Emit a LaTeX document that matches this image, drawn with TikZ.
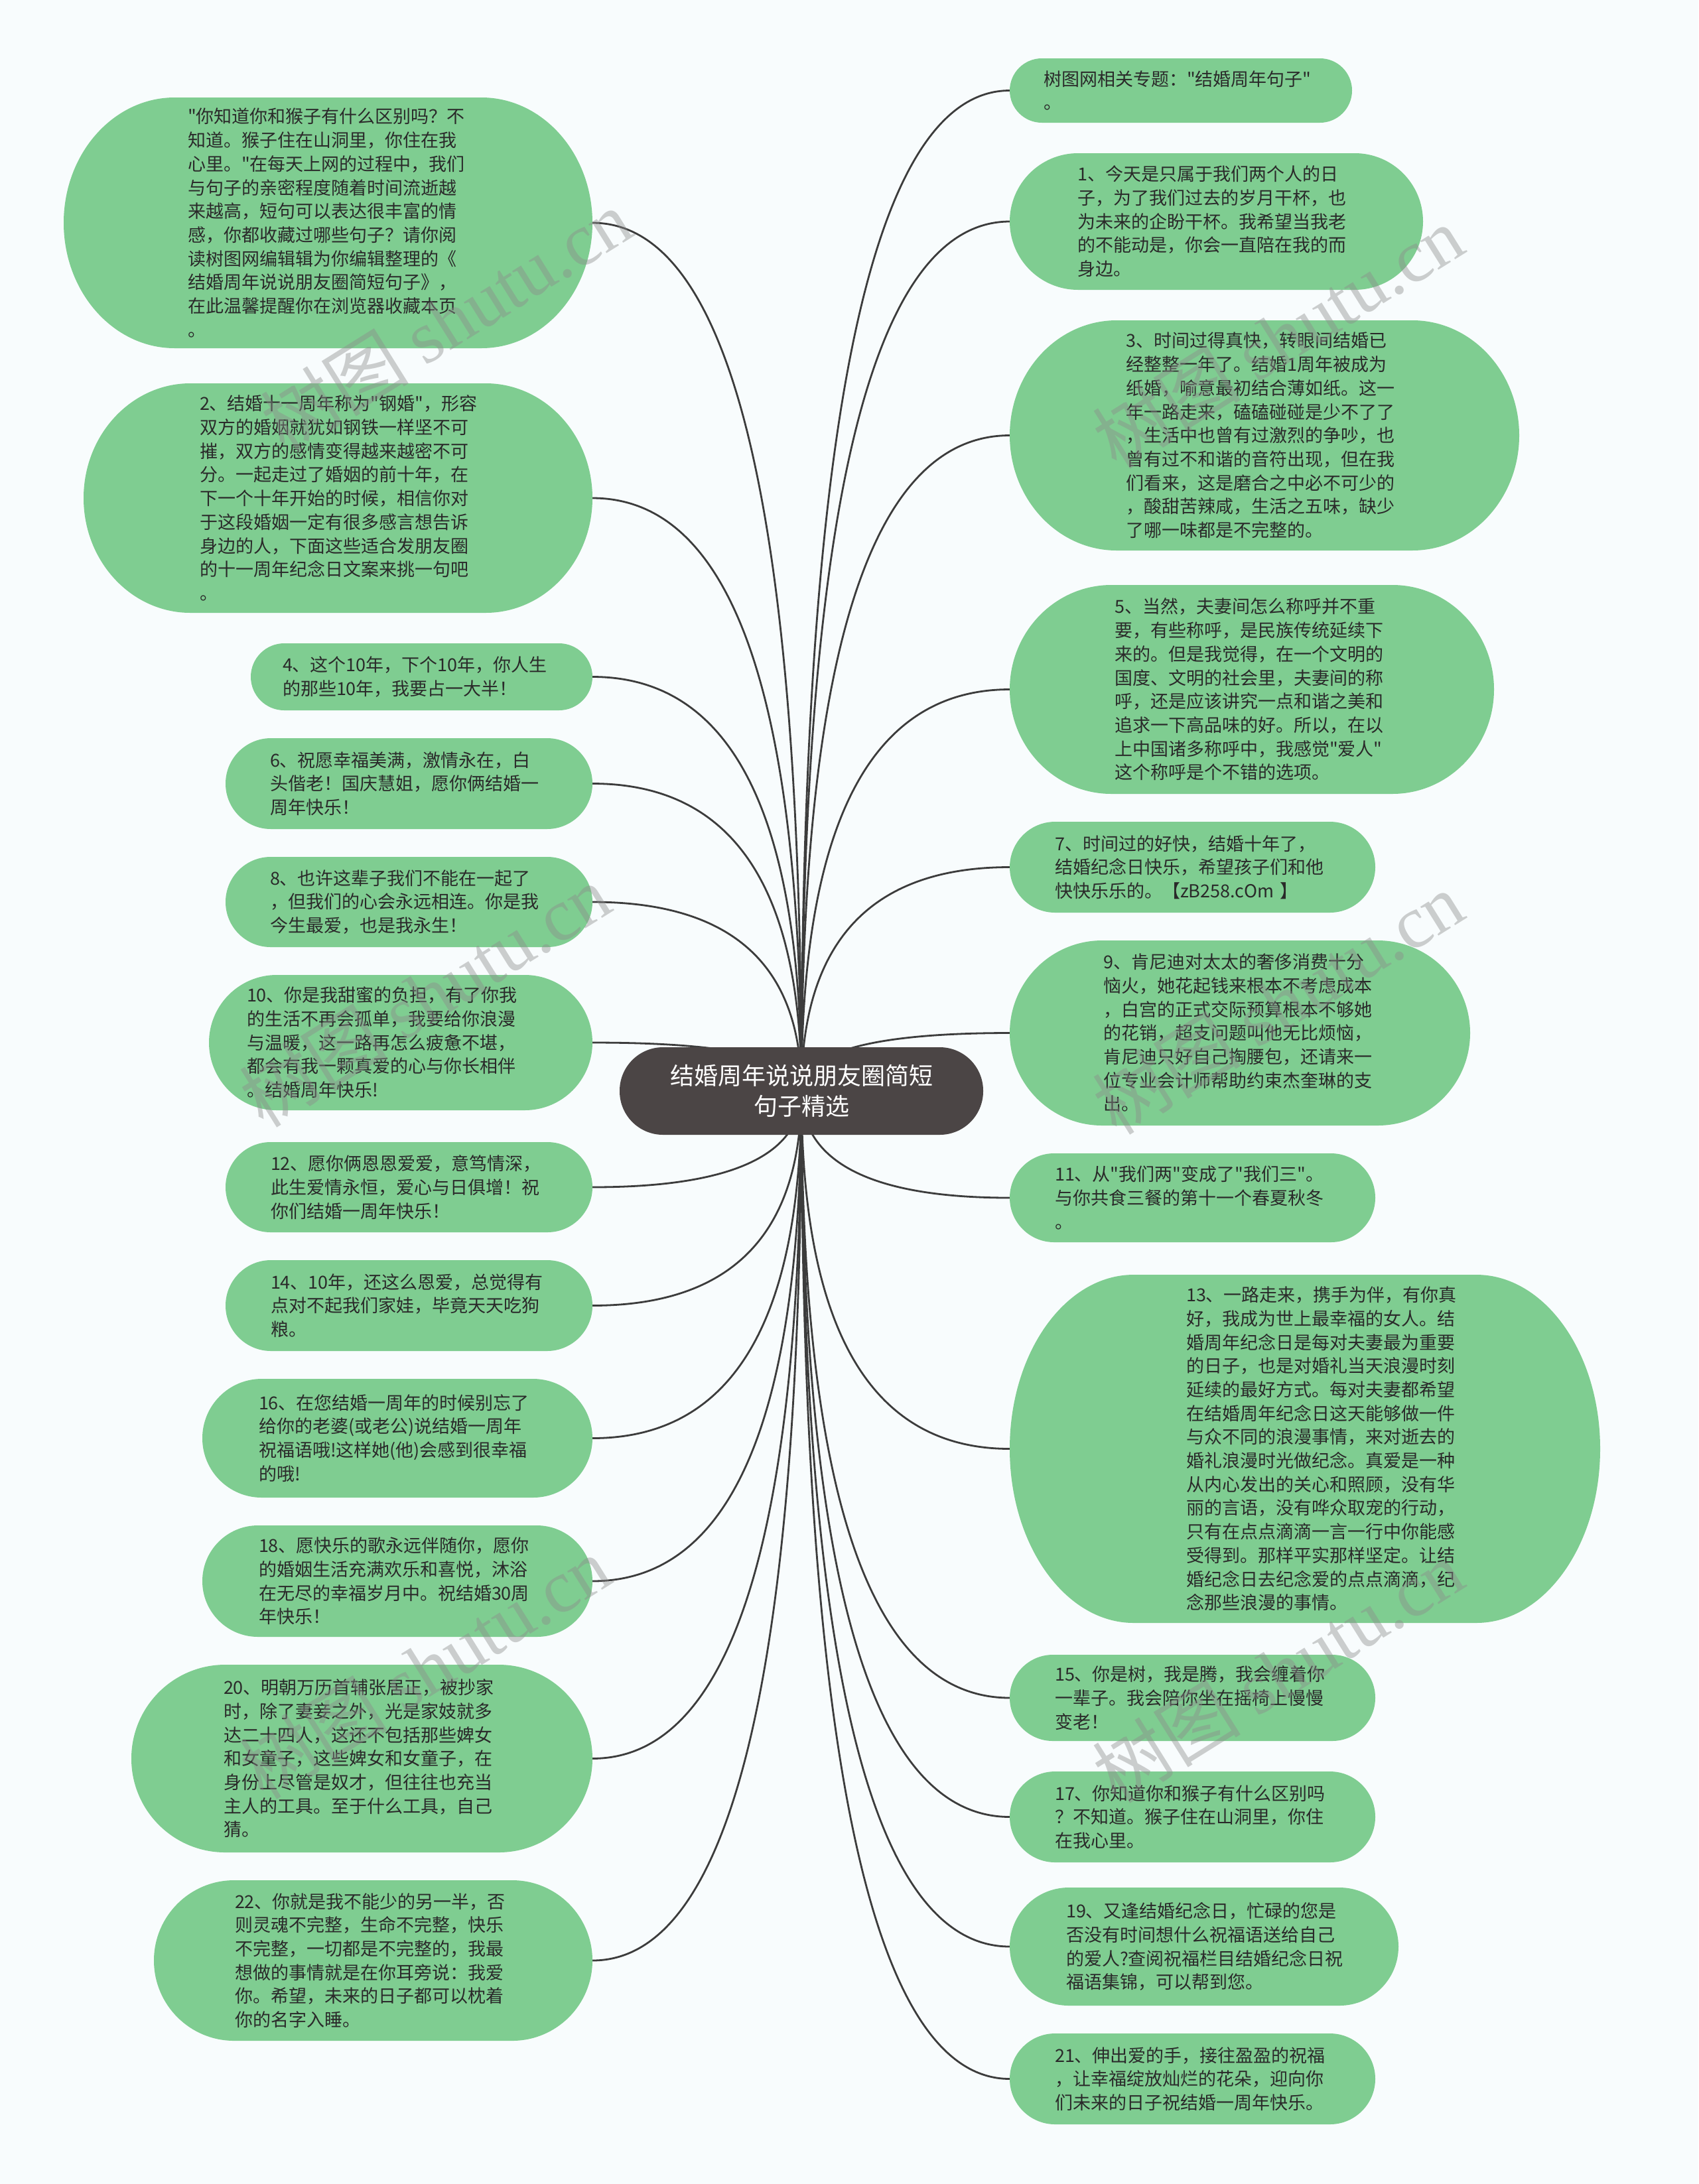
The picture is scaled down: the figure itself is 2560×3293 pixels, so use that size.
\documentclass[tikz,border=0pt]{standalone}
\usepackage{fontspec}
\setmainfont{Noto Sans CJK SC}[Ligatures=TeXOff]
\newfontfamily\wmlatin{Liberation Serif}[Ligatures=TeXOff]
\usetikzlibrary{calc}
\pgfdeclarelayer{bg}
\pgfdeclarelayer{fg}
\pgfsetlayers{bg,main,fg}
\definecolor{gfillc}{HTML}{7FCD91}
\definecolor{rootc}{HTML}{4B4545}
\definecolor{linec}{HTML}{3C3C3C}
\definecolor{txtc}{HTML}{2A2A2A}
\definecolor{bgc}{HTML}{F8FCFD}
\definecolor{wmc}{HTML}{8C8C8C}
\newcommand\gbub[7]{%
  \pgfmathsetmacro\bw{#4-#2}%
  \pgfmathsetmacro\bh{#5-#3}%
  \pgfmathsetmacro\bcx{(#2+#4)/2}%
  \pgfmathsetmacro\bcy{-(#3+#5)/2}%
  \pgfmathsetmacro\brx{min(\bh/2,0.21*\bw)}%
  \pgfmathsetmacro\bry{\bh/2}%
  \pgfmathsetmacro\btw{2*(\bcx-#6)}%
  \fill[gfillc] ({#2+\brx},{-#3}) -- ({#4-\brx},{-#3})
     arc[start angle=90,end angle=-90,x radius=\brx pt,y radius=\bry pt]
     -- ({#2+\brx},{-#5})
     arc[start angle=270,end angle=90,x radius=\brx pt,y radius=\bry pt] -- cycle;
  \node[gtext,minimum width=\bw pt,minimum height=\bh pt,text width=\btw pt] (#1) at (\bcx,\bcy) {#7};
}
\newcommand\linkL[1]{%
  \coordinate (k#1) at (root.center |- #1.east);
  \draw[conn] (root.center) .. controls ($(root.center)!0.6667!(k#1)$) and ($(#1.east)!0.6667!(k#1)$) .. (#1.east);
}
\newcommand\linkR[1]{%
  \coordinate (k#1) at (root.center |- #1.west);
  \draw[conn] (root.center) .. controls ($(root.center)!0.6667!(k#1)$) and ($(#1.west)!0.6667!(k#1)$) .. (#1.west);
}
\begin{document}
\begin{tikzpicture}[x=1pt,y=1pt,
  gtext/.style={inner sep=0pt,outer sep=0pt,align=left,text=txtc,font=\fontsize{27}{35.7}\selectfont},
  rootnode/.style={fill=rootc,rounded corners=65.5pt,minimum width=548pt,minimum height=132pt,inner sep=0pt,outer sep=0pt,align=center,text=white,font=\fontsize{36}{46}\selectfont},
  conn/.style={draw=linec,line width=2.8pt},
  wm/.style={text=wmc,opacity=0.42,rotate=32,font=\fontsize{112}{112}\selectfont}]
\useasboundingbox (0,0) rectangle (2560,-3293);

\node[rootnode] (root) at (1208,-1645) {结婚周年说说朋友圈简短\\句子精选};

% left column
\gbub{L1}{96}{147}{893}{525}{283}{"你知道你和猴子有什么区别吗？不\\知道。猴子住在山洞里，你住在我\\心里。"在每天上网的过程中，我们\\与句子的亲密程度随着时间流逝越\\来越高，短句可以表达很丰富的情\\感，你都收藏过哪些句子？请你阅\\读树图网编辑辑为你编辑整理的《\\结婚周年说说朋友圈简短句子》，\\在此温馨提醒你在浏览器收藏本页\\。}
\gbub{L2}{126}{578}{893}{924}{301}{2、结婚十一周年称为"钢婚"，形容\\双方的婚姻就犹如钢铁一样坚不可\\摧，双方的感情变得越来越密不可\\分。一起走过了婚姻的前十年，在\\下一个十年开始的时候，相信你对\\于这段婚姻一定有很多感言想告诉\\身边的人，下面这些适合发朋友圈\\的十一周年纪念日文案来挑一句吧\\。}
\gbub{L3}{378}{970}{893}{1071}{426}{4、这个10年，下个10年，你人生\\的那些10年，我要占一大半！}
\gbub{L4}{340}{1113}{893}{1250}{407}{6、祝愿幸福美满，激情永在，白\\头偕老！国庆慧姐，愿你俩结婚一\\周年快乐！}
\gbub{L5}{340}{1292}{893}{1428}{407}{8、也许这辈子我们不能在一起了\\，但我们的心会永远相连。你是我\\今生最爱，也是我永生！}
\gbub{L6}{315}{1470}{893}{1674}{372}{10、你是我甜蜜的负担，有了你我\\的生活不再会孤单，我要给你浪漫\\与温暖，这一路再怎么疲惫不堪，\\都会有我一颗真爱的心与你长相伴\\。结婚周年快乐!}
\gbub{L7}{340}{1722}{893}{1858}{408}{12、愿你俩恩恩爱爱，意笃情深，\\此生爱情永恒，爱心与日俱增！祝\\你们结婚一周年快乐！}
\gbub{L8}{340}{1900}{893}{2037}{408}{14、10年，还这么恩爱，总觉得有\\点对不起我们家娃，毕竟天天吃狗\\粮。}
\gbub{L9}{305}{2079}{893}{2258}{390}{16、在您结婚一周年的时候别忘了\\给你的老婆(或老公)说结婚一周年\\祝福语哦!这样她(他)会感到很幸福\\的哦!}
\gbub{L10}{305}{2300}{893}{2468}{390}{18、愿快乐的歌永远伴随你，愿你\\的婚姻生活充满欢乐和喜悦，沐浴\\在无尽的幸福岁月中。祝结婚30周\\年快乐！}
\gbub{L11}{198}{2510}{893}{2793}{337}{20、明朝万历首辅张居正，被抄家\\时，除了妻妾之外，光是家妓就多\\达二十四人，这还不包括那些婢女\\和女童子，这些婢女和女童子，在\\身份上尽管是奴才，但往往也充当\\主人的工具。至于什么工具，自己\\猜。}
\gbub{L12}{232}{2835}{893}{3077}{354}{22、你就是我不能少的另一半，否\\则灵魂不完整，生命不完整，快乐\\不完整，一切都是不完整的，我最\\想做的事情就是在你耳旁说：我爱\\你。希望，未来的日子都可以枕着\\你的名字入睡。}

% right column
\gbub{R1}{1522}{88}{2038}{185}{1573}{树图网相关专题："结婚周年句子"\\。}
\gbub{R2}{1522}{231}{2145}{437}{1624}{1、今天是只属于我们两个人的日\\子，为了我们过去的岁月干杯，也\\为未来的企盼干杯。我希望当我老\\的不能动是，你会一直陪在我的而\\身边。}
\gbub{R3}{1522}{483}{2290}{830}{1697}{3、时间过得真快，转眼间结婚已\\经整整一年了。结婚1周年被成为\\纸婚，喻意最初结合薄如纸。这一\\年一路走来，磕磕碰碰是少不了了\\，生活中也曾有过激烈的争吵，也\\曾有过不和谐的音符出现，但在我\\们看来，这是磨合之中必不可少的\\，酸甜苦辣咸，生活之五味，缺少\\了哪一味都是不完整的。}
\gbub{R4}{1522}{882}{2252}{1197}{1680}{5、当然，夫妻间怎么称呼并不重\\要，有些称呼，是民族传统延续下\\来的。但是我觉得，在一个文明的\\国度、文明的社会里，夫妻间的称\\呼，还是应该讲究一点和谐之美和\\追求一下高品味的好。所以，在以\\上中国诸多称呼中，我感觉"爱人"\\这个称呼是个不错的选项。}
\gbub{R5}{1522}{1239}{2073}{1376}{1590}{7、时间过的好快，结婚十年了，\\结婚纪念日快乐，希望孩子们和他\\快快乐乐的。【zB258.cOm 】}
\gbub{R6}{1522}{1418}{2216}{1697}{1663}{9、肯尼迪对太太的奢侈消费十分\\恼火，她花起钱来根本不考虑成本\\，白宫的正式交际预算根本不够她\\的花销，超支问题叫他无比烦恼，\\肯尼迪只好自己掏腰包，还请来一\\位专业会计师帮助约束杰奎琳的支\\出。}
\gbub{R7}{1522}{1739}{2073}{1873}{1590}{11、从"我们两"变成了"我们三"。\\与你共食三餐的第十一个春夏秋冬\\。}
\gbub{R8}{1522}{1922}{2412}{2447}{1788}{13、一路走来，携手为伴，有你真\\好，我成为世上最幸福的女人。结\\婚周年纪念日是每对夫妻最为重要\\的日子，也是对婚礼当天浪漫时刻\\延续的最好方式。每对夫妻都希望\\在结婚周年纪念日这天能够做一件\\与众不同的浪漫事情，来对逝去的\\婚礼浪漫时光做纪念。真爱是一种\\从内心发出的关心和照顾，没有华\\丽的言语，没有哗众取宠的行动，\\只有在点点滴滴一言一行中你能感\\受得到。那样平实那样坚定。让结\\婚纪念日去纪念爱的点点滴滴，纪\\念那些浪漫的事情。}
\gbub{R9}{1522}{2495}{2073}{2625}{1590}{15、你是树，我是腾，我会缠着你\\一辈子。我会陪你坐在摇椅上慢慢\\变老！}
\gbub{R10}{1522}{2671}{2073}{2808}{1590}{17、你知道你和猴子有什么区别吗\\？不知道。猴子住在山洞里，你住\\在我心里。}
\gbub{R11}{1522}{2846}{2108}{3024}{1607}{19、又逢结婚纪念日，忙碌的您是\\否没有时间想什么祝福语送给自己\\的爱人?查阅祝福栏目结婚纪念日祝\\福语集锦，可以帮到您。}
\gbub{R12}{1522}{3066}{2073}{3203}{1590}{21、伸出爱的手，接往盈盈的祝福\\，让幸福绽放灿烂的花朵，迎向你\\们未来的日子祝结婚一周年快乐。}

\begin{pgfonlayer}{bg}
  \fill[bgc] (0,0) rectangle (2560,-3293);
  \linkL{L1}\linkL{L2}\linkL{L3}\linkL{L4}\linkL{L5}\linkL{L6}
  \linkL{L7}\linkL{L8}\linkL{L9}\linkL{L10}\linkL{L11}\linkL{L12}
  \linkR{R1}\linkR{R2}\linkR{R3}\linkR{R4}\linkR{R5}\linkR{R6}
  \linkR{R7}\linkR{R8}\linkR{R9}\linkR{R10}\linkR{R11}\linkR{R12}
\end{pgfonlayer}

\begin{pgfonlayer}{fg}
  \node[wm] (wm1) at (672,-483) {树图 {\wmlatin shutu.cn}};
  \node[wm] (wm2) at (640,-1501) {树图 {\wmlatin shutu.cn}};
  \node[wm] (wm3) at (640,-2514) {树图 {\wmlatin shutu.cn}};
  \node[wm] (wm4) at (1926,-508) {树图 {\wmlatin shutu.cn}};
  \node[wm] (wm5) at (1926,-1512) {树图 {\wmlatin shutu.cn}};
  \node[wm] (wm6) at (1926,-2520) {树图 {\wmlatin shutu.cn}};
\end{pgfonlayer}
\end{tikzpicture}
\end{document}
